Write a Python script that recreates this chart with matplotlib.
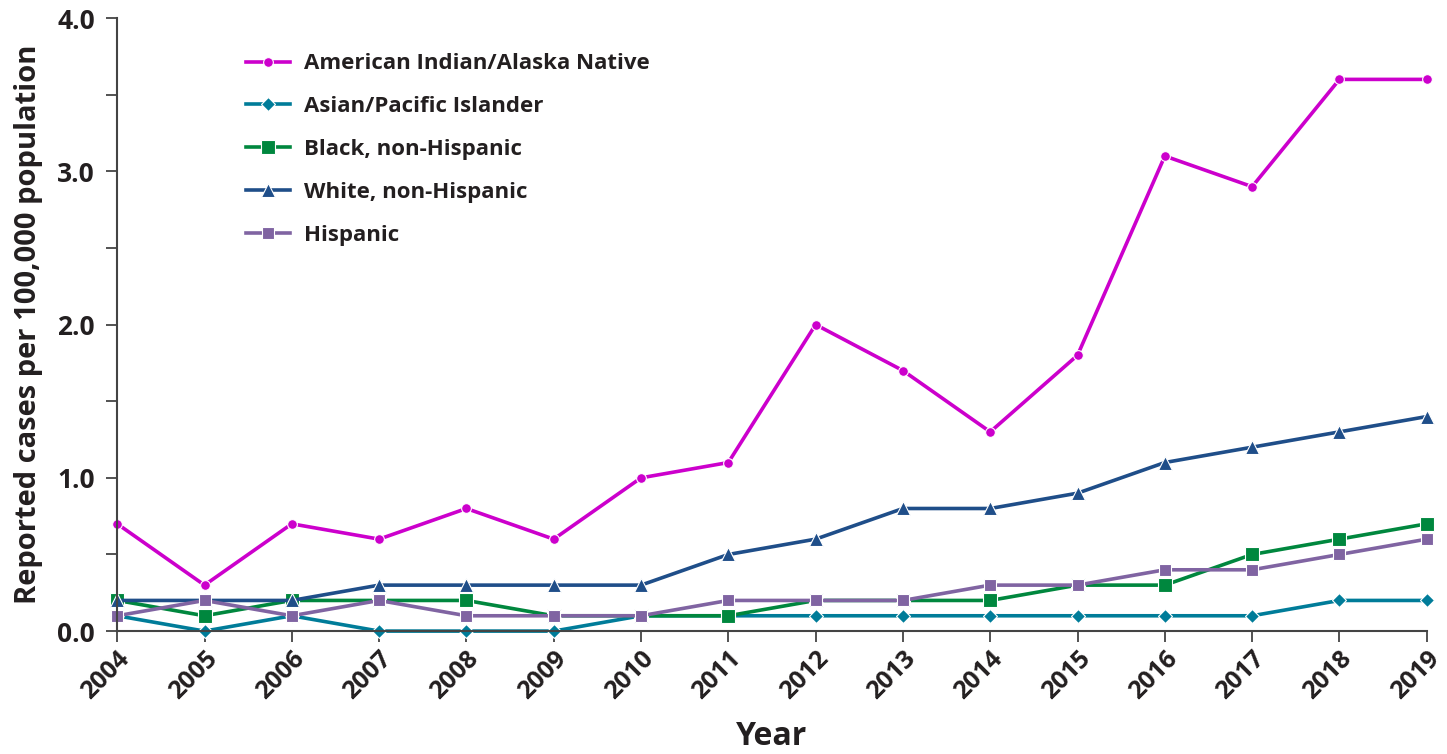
import matplotlib.pyplot as plt

years = list(range(2004, 2020))
aian = [0.7, 0.3, 0.7, 0.6, 0.8, 0.6, 1.0, 1.1, 2.0, 1.7, 1.3, 1.8, 3.1, 2.9, 3.6, 3.6]
api = [0.1, 0.0, 0.1, 0.0, 0.0, 0.0, 0.1, 0.1, 0.1, 0.1, 0.1, 0.1, 0.1, 0.1, 0.2, 0.2]
black = [0.2, 0.1, 0.2, 0.2, 0.2, 0.1, 0.1, 0.1, 0.2, 0.2, 0.2, 0.3, 0.3, 0.5, 0.6, 0.7]
white = [0.2, 0.2, 0.2, 0.3, 0.3, 0.3, 0.3, 0.5, 0.6, 0.8, 0.8, 0.9, 1.1, 1.2, 1.3, 1.4]
hispanic = [0.1, 0.2, 0.1, 0.2, 0.1, 0.1, 0.1, 0.2, 0.2, 0.2, 0.3, 0.3, 0.4, 0.4, 0.5, 0.6]

plt.rcParams['font.family'] = ['Open Sans', 'DejaVu Sans']
plt.rcParams['font.weight'] = 'bold'

fig = plt.figure(figsize=(14.47, 7.54), dpi=100)
ax = fig.add_axes([0.081, 0.163, 0.905, 0.813])

series = [
    ("American Indian/Alaska Native", aian, "#CC00CC", "o", 7),
    ("Asian/Pacific Islander", api, "#007C99", "D", 7),
    ("Black, non-Hispanic", black, "#00873E", "s", 10),
    ("White, non-Hispanic", white, "#1F4E89", "^", 10),
    ("Hispanic", hispanic, "#8064A2", "s", 8),
]
for name, vals, col, mk, ms in series:
    ax.plot(years, vals, color=col, lw=2.6, marker=mk, ms=ms,
            mec="white", mew=0.8, label=name, clip_on=False)

ax.set_xlim(2004, 2019)
ax.set_ylim(0, 4.0)
ax.set_xticks(years)
ax.set_xticklabels([str(y) for y in years], rotation=45, ha="right",
                   rotation_mode="anchor", fontsize=18, fontweight="bold",
                   color="#231f20")
ax.set_yticks([0, 0.5, 1, 1.5, 2, 2.5, 3, 3.5, 4])
ax.set_yticklabels(["0.0", "", "1.0", "", "2.0", "", "3.0", "", "4.0"],
                   fontsize=19, fontweight="bold", color="#231f20")
ax.tick_params(axis="both", length=8, width=1.3, color="#444444", direction="out")
ax.tick_params(axis="x", pad=3)
ax.tick_params(axis="y", pad=8)
for s in ["top", "right"]:
    ax.spines[s].set_visible(False)
for s in ["left", "bottom"]:
    ax.spines[s].set_color("#444444")
    ax.spines[s].set_linewidth(1.5)

ax.set_xlabel("Year", fontsize=23, fontweight="bold", labelpad=11, color="#231f20")
ax.set_ylabel("Reported cases per 100,000 population", fontsize=21,
              fontweight="bold", labelpad=10, color="#231f20")

leg = ax.legend(loc="upper left", bbox_to_anchor=(0.083, 0.975), frameon=False,
                prop={"size": 16, "weight": "bold"},
                handlelength=2.0, labelspacing=0.98, handletextpad=0.6)
for t in leg.get_texts():
    t.set_color("#231f20")

fig.savefig("out.png", dpi=100)
